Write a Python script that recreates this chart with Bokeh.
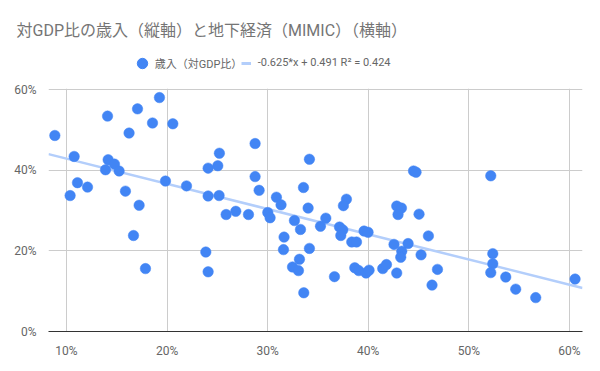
from bokeh.plotting import figure
from bokeh.models import (Range1d, FixedTicker, PrintfTickFormatter, Label,
                          Legend, LegendItem, ColumnDataSource)
from bokeh.embed import file_html
from bokeh.resources import INLINE

# ---------------- data (percent) ----------------
shadow_economy = [
    8.84, 14.08, 17.06, 19.24, 18.55, 20.57, 16.22, 10.76, 14.14, 14.77,
    13.88, 15.23, 11.09, 12.09, 10.36, 15.86, 19.84, 21.93, 17.22, 24.08,
    25.04, 25.2, 24.08, 25.17, 28.75, 28.75, 29.15, 34.15, 30.87, 31.33,
    33.56, 34.02, 37.83, 37.53, 44.5, 44.75, 52.18, 42.83, 43.3, 42.96,
    25.87, 16.66, 17.85, 23.85, 24.08, 26.83, 28.09, 30.01, 30.24, 32.66,
    33.26, 31.63, 31.57, 35.78, 35.25, 34.15, 33.16, 32.47, 33.06, 33.59,
    37.14, 37.47, 37.27, 36.64, 38.36, 38.83, 39.58, 39.98, 38.66, 39.06,
    39.78, 40.08, 41.44, 41.81, 42.56, 42.83, 45.05, 45.98, 43.96, 43.33,
    43.23, 45.25, 46.88, 46.34, 52.38, 52.38, 52.18, 53.67, 54.66, 56.65,
    60.56,
]
revenue = [
    48.6, 53.4, 55.2, 58.0, 51.7, 51.5, 49.2, 43.4, 42.6, 41.5,
    40.1, 39.8, 36.9, 35.8, 33.7, 34.8, 37.3, 36.1, 31.3, 40.5,
    41.1, 44.2, 33.6, 33.7, 46.6, 38.4, 35.0, 42.7, 33.3, 31.4,
    35.7, 30.6, 32.8, 31.2, 39.8, 39.5, 38.6, 31.1, 30.6, 29.0,
    29.0, 23.8, 15.6, 19.7, 14.8, 29.8, 29.0, 29.5, 28.2, 27.5,
    25.3, 23.4, 20.3, 28.1, 26.1, 20.6, 17.9, 16.0, 15.1, 9.6,
    25.9, 25.2, 23.8, 13.6, 22.2, 22.2, 24.9, 24.6, 15.8, 15.1,
    14.5, 15.2, 15.6, 16.6, 21.6, 14.5, 29.1, 23.7, 21.8, 19.9,
    18.4, 19.0, 15.4, 11.5, 19.3, 16.8, 14.6, 13.5, 10.5, 8.4,
    13.0,
]
slope = -0.625
intercept = 0.491
x_ticks = [10, 20, 30, 40, 50, 60]
y_ticks = [0, 20, 40, 60]

title_text = "対GDP比の歳入（縦軸）と地下経済（MIMIC）（横軸）"
series_label = "歳入（対GDP比）"
trend_label = "-0.625*x + 0.491 R² = 0.424"

BLUE = "#4285F4"
TREND = "#b3cefb"
FONT = "Roboto, 'Noto Sans CJK JP'"
TXT = "#666666"

src = ColumnDataSource(dict(x=shadow_economy, y=revenue))
X0, X1 = 8.21, 61.3
tx = [X0, X1]
ty = [(slope * (v / 100) + intercept) * 100 for v in tx]

# ---------------- header (title + legend), separate root ----------------
W = 600
HH = 81
hdr = figure(width=W, height=HH, output_backend="svg", toolbar_location=None,
             x_range=Range1d(0, W), y_range=Range1d(HH, 0),
             min_border=0, x_axis_type=None, y_axis_type=None)
hdr.outline_line_color = None
hdr.grid.visible = False

hdr.add_layout(Label(x=16, y=30, text=title_text, text_font=FONT,
                     text_font_size="16px", text_color="#757575",
                     text_baseline="middle", text_align="left"))

# legend proxies (hidden copies of the series, only used for legend glyphs)
proxy_pts = hdr.scatter("x", "y", source=src, size=10.5, fill_color=BLUE,
                        line_color=BLUE, visible=False)
proxy_line = hdr.line(tx, ty, line_color=TREND, line_width=3, visible=False)

LEG_CY = 62.7
GH = 26
def leg_loc(x):
    return (x, HH - LEG_CY - GH / 2)

common = dict(orientation="horizontal", glyph_height=GH, label_height=GH,
              padding=0, margin=0, spacing=0, border_line_alpha=0,
              background_fill_alpha=0, label_text_font_size="11px",
              label_text_color=TXT, inactive_fill_alpha=0,
              click_policy="none")
leg1 = Legend(items=[LegendItem(label=series_label, renderers=[proxy_pts])],
              location=leg_loc(128.7), glyph_width=26, label_standoff=0,
              label_text_font=FONT, **common)
leg2 = Legend(items=[LegendItem(label=trend_label, renderers=[proxy_line])],
              location=leg_loc(240.7), glyph_width=10, label_standoff=7,
              label_text_font="Roboto", **common)
hdr.add_layout(leg1, "center")
hdr.add_layout(leg2, "center")

# ---------------- main plot ----------------
H = 371 - HH
BL, BR, BT, BB = 48, 18, 7, 40
FH = H - BT - BB
Y0, Y1 = 0, 60 * FH / 242

p = figure(width=W, height=H, output_backend="svg", toolbar_location=None,
           x_range=Range1d(X0, X1), y_range=Range1d(Y0, Y1),
           min_border_left=BL, min_border_right=BR,
           min_border_top=BT, min_border_bottom=BB)
p.outline_line_color = None

p.line(tx, ty, line_color=TREND, line_width=2.5)
p.scatter("x", "y", source=src, size=10.5, fill_color=BLUE,
          line_color=BLUE, line_width=0.5)

for ax in (p.xaxis[0], p.yaxis[0]):
    ax.major_tick_line_color = None
    ax.minor_tick_line_color = None
    ax.major_label_text_font = "Roboto"
    ax.major_label_text_font_size = "12px"
    ax.major_label_text_color = TXT
    ax.major_label_standoff = 6
    ax.formatter = PrintfTickFormatter(format="%d%%")
p.xaxis[0].ticker = FixedTicker(ticks=x_ticks)
p.yaxis[0].ticker = FixedTicker(ticks=y_ticks)
p.xaxis[0].axis_line_color = "#333333"
p.yaxis[0].axis_line_color = None

p.xgrid[0].ticker = FixedTicker(ticks=x_ticks)
p.ygrid[0].ticker = FixedTicker(ticks=y_ticks)
p.xgrid.grid_line_color = "#cccccc"
p.ygrid.grid_line_color = "#cccccc"

open("out.html", "w").write(file_html([hdr, p], INLINE))
